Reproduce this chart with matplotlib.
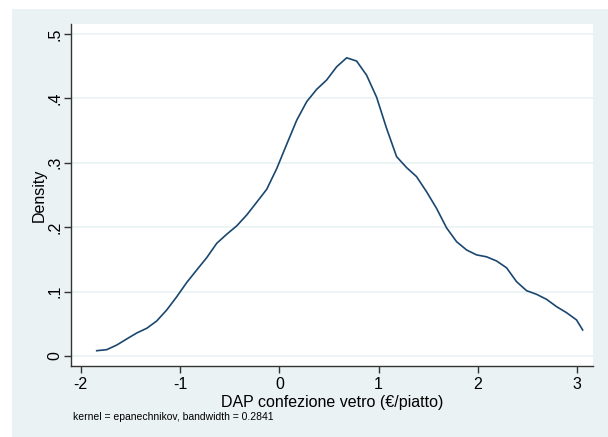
import numpy as np
import matplotlib
matplotlib.use("Agg")
import matplotlib.pyplot as plt
from matplotlib.patches import Rectangle

plt.rcParams['font.family'] = ['Liberation Sans', 'DejaVu Sans']
plt.rcParams['axes.unicode_minus'] = False

# kernel density estimate (50 evaluation points)
dap = [-1.839, -1.738, -1.637, -1.537, -1.436, -1.335, -1.235, -1.134, -1.033, -0.933,
       -0.832, -0.731, -0.630, -0.530, -0.429, -0.328, -0.228, -0.127, -0.026, 0.075,
       0.175, 0.276, 0.376, 0.477, 0.577, 0.678, 0.778, 0.879, 0.980, 1.080,
       1.181, 1.282, 1.382, 1.483, 1.584, 1.684, 1.785, 1.886, 1.986, 2.087,
       2.188, 2.288, 2.389, 2.490, 2.590, 2.691, 2.792, 2.892, 2.993, 3.055]
density = [0.0082, 0.0098, 0.017, 0.0264, 0.0357, 0.043, 0.0543, 0.0714, 0.092, 0.114,
           0.1335, 0.1527, 0.175, 0.189, 0.202, 0.219, 0.2387, 0.2588, 0.291, 0.329,
           0.366, 0.395, 0.414, 0.4286, 0.449, 0.463, 0.458, 0.436, 0.4017, 0.3535,
           0.3095, 0.2925, 0.2785, 0.255, 0.229, 0.199, 0.1775, 0.1646, 0.157, 0.154,
           0.1475, 0.137, 0.1154, 0.1014, 0.0958, 0.088, 0.0766, 0.0673, 0.056, 0.0404]

xticks = [-2, -1, 0, 1, 2, 3]
yticks = [0, 0.1, 0.2, 0.3, 0.4, 0.5]
ylabels = ['0', '.1', '.2', '.3', '.4', '.5']

bg = '#eaf2f3'
navy = '#1a476f'

fig = plt.figure(figsize=(6.08, 4.37), dpi=100)
fig.patch.set_facecolor('white')
# stata-like outer region
fig.patches.append(Rectangle((12 / 608, 0), 1 - 12 / 608, 1 - 9 / 437,
                             transform=fig.transFigure, facecolor=bg,
                             edgecolor='none', zorder=-10))

ax = fig.add_axes([71 / 608, (437 - 365.7) / 437, (592.7 - 71) / 608, (365.7 - 24) / 437])
ax.set_facecolor('white')
ax.plot(dap, density, color=navy, lw=1.2)

ax.set_xlim(-2.098, 3.156)
ax.set_ylim(-0.0151, 0.5155)
ax.set_xticks(xticks)
ax.set_yticks(yticks)
ax.set_yticklabels(ylabels, rotation=90, va='center')
for y in yticks:
    ax.axhline(y, color=bg, lw=1.2, zorder=0)

for s in ['top', 'right']:
    ax.spines[s].set_visible(False)
for s in ['left', 'bottom']:
    ax.spines[s].set_color('#333333')
    ax.spines[s].set_linewidth(1.0)
ax.tick_params(direction='out', length=5, width=1.0, color='#333333',
               labelsize=11.5, pad=3)
ax.tick_params(axis='y', pad=1)

ax.set_ylabel('Density', fontsize=11.5, labelpad=1)
ax.set_xlabel('DAP confezione vetro (€/piatto)', fontsize=11.5, labelpad=2)
fig.text(73 / 608, 1 - 417 / 437, 'kernel = epanechnikov, bandwidth = 0.2841',
         fontsize=7.5, va='center', ha='left')

fig.savefig('out.png', dpi=100, facecolor=fig.get_facecolor())
